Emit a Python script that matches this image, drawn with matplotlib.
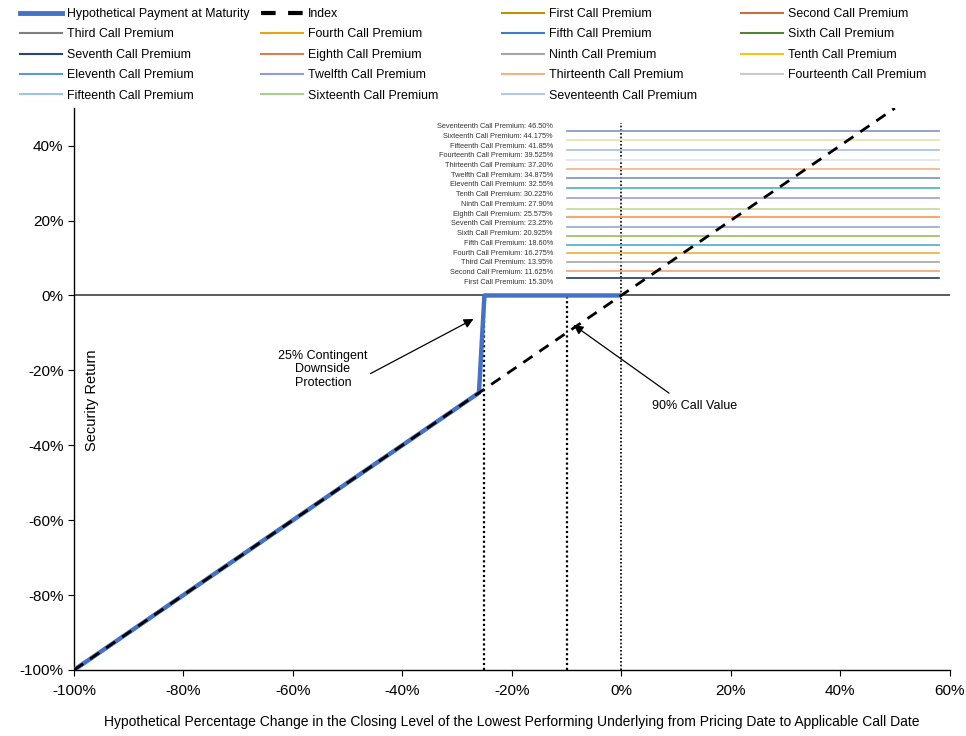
import numpy as np
import matplotlib.pyplot as plt
from matplotlib.lines import Line2D

plt.rcParams['font.family'] = ['Liberation Sans', 'DejaVu Sans']

# index and payment at maturity (percent)
index_x = [-100, 50]
index_y = [-100, 50]
pay_x = [-100, -26, -25, 0]
pay_y = [-100, -26, 0, 0]

names = ['First', 'Second', 'Third', 'Fourth', 'Fifth', 'Sixth', 'Seventh', 'Eighth',
         'Ninth', 'Tenth', 'Eleventh', 'Twelfth', 'Thirteenth', 'Fourteenth', 'Fifteenth',
         'Sixteenth', 'Seventeenth']
premium_text = ['15.30%', '11.625%', '13.95%', '16.275%', '18.60%', '20.925%', '23.25%',
                '25.575%', '27.90%', '30.225%', '32.55%', '34.875%', '37.20%', '39.525%',
                '41.85%', '44.175%', '46.50%']
# level each premium line is drawn at
premium_level = [4.6, 6.6, 9.0, 11.4, 13.6, 16.0, 18.3, 20.9, 23.2, 25.9, 28.8, 31.3,
                 33.8, 36.2, 38.8, 41.4, 44.0]
premium_x = [-10, 58]

line_colors = ['#1f3864', '#f4a274', '#a5a5a5', '#f0b030', '#4bacc6', '#9bbb59', '#95a8cf',
               '#f79646', '#c3d69b', '#a99bcc', '#4bacc6', '#7c8fbf', '#f4b183', '#e3e3e3',
               '#a9bee0', '#dde6a8', '#7f95c4']
legend_colors = ['#bf9000', '#c0703a', '#7f7f7f', '#e8a317', '#3d7cc9', '#548235', '#264478',
                 '#d98050', '#a5a5a5', '#f5c518', '#5b9bd5', '#8e9fd6', '#f4b183', '#c9c9c9',
                 '#9dc3e6', '#a9d18e', '#b4c7e7']

fig = plt.figure(figsize=(9.66, 7.36), dpi=100)
ax = fig.add_axes([0.0766, 0.0897, 0.9064, 0.7633])

ax.axhline(0, color='#404040', lw=1.2, zorder=1)

# vertical dotted markers
ax.plot([-25, -25], [-100, 0], color='black', lw=1.6, ls=(0, (1, 1.2)), zorder=2)
ax.plot([-10, -10], [-100, 0], color='black', lw=1.6, ls=(0, (1, 1.2)), zorder=2)
ax.plot([0, 0], [-100, 46], color='black', lw=1.2, ls=(0, (1, 1.2)), zorder=2)

for lvl, c in zip(premium_level, line_colors):
    ax.plot(premium_x, [lvl, lvl], color=c, lw=1.2, zorder=2)

label_y = np.linspace(3.5, 45.1, len(names))
for nm, txt, yy in zip(names, premium_text, label_y):
    ax.text(-12.5, yy, f'{nm} Call Premium: {txt}', ha='right', va='center',
            fontsize=5.3, color='#333333')

ax.plot(pay_x, pay_y, color='#4472c4', lw=3.2, solid_capstyle='butt', zorder=3)
ax.plot(index_x, index_y, color='black', lw=2.0, ls=(0, (4, 3)), zorder=4)

ax.annotate('25% Contingent\nDownside\nProtection', xy=(-27, -6.3), xytext=(-54.5, -19.7),
            ha='center', va='center', fontsize=9, linespacing=1.15,
            arrowprops=dict(arrowstyle='-|>', color='black', lw=0.9, mutation_scale=14,
                            shrinkA=0, shrinkB=0, relpos=(1.0, 0.35)))
ax.annotate('90% Call Value', xy=(-8.7, -7.9), xytext=(13.4, -29.6),
            ha='center', va='center', fontsize=9,
            arrowprops=dict(arrowstyle='-|>', color='black', lw=0.9, mutation_scale=14,
                            shrinkA=0, shrinkB=0, relpos=(0.2, 1.6)))

ax.text(-96.7, -28, 'Security Return', rotation=90, ha='center', va='center', fontsize=10.5)

ax.set_xlim(-100, 60)
ax.set_ylim(-100, 50)
ax.set_xticks(np.arange(-100, 61, 20))
ax.set_yticks(np.arange(-100, 41, 20))
ax.xaxis.set_major_formatter(lambda v, p: f'{v:.0f}%')
ax.yaxis.set_major_formatter(lambda v, p: f'{v:.0f}%')
ax.tick_params(labelsize=11, length=4, width=0.8, direction='out')
ax.tick_params(axis='x', pad=6)
for s in ['top', 'right']:
    ax.spines[s].set_visible(False)
ax.spines['left'].set_linewidth(1.0)
ax.spines['bottom'].set_linewidth(1.0)
ax.set_xlabel('Hypothetical Percentage Change in the Closing Level of the Lowest Performing '
              'Underlying from Pricing Date to Applicable Call Date', fontsize=10, labelpad=12)

# legend, laid out row by row in four columns
entries = [(Line2D([], [], color='#4472c4', lw=3.5), 'Hypothetical Payment at Maturity'),
           (Line2D([], [], color='black', lw=3.0, ls=(0, (3.5, 3))), 'Index')]
for nm, c in zip(names, legend_colors):
    entries.append((Line2D([], [], color=c, lw=1.5), f'{nm} Call Premium'))

col_x = [0.012, 0.262, 0.511, 0.759]
for c in range(4):
    items = entries[c::4]
    fig.legend([h for h, _ in items], [l for _, l in items], loc='upper left',
               bbox_to_anchor=(col_x[c], 1.0), frameon=False, fontsize=8.9,
               handlelength=3.4, handletextpad=0.4, labelspacing=0.68,
               borderaxespad=0.25)

fig.savefig('out.png', dpi=100)
